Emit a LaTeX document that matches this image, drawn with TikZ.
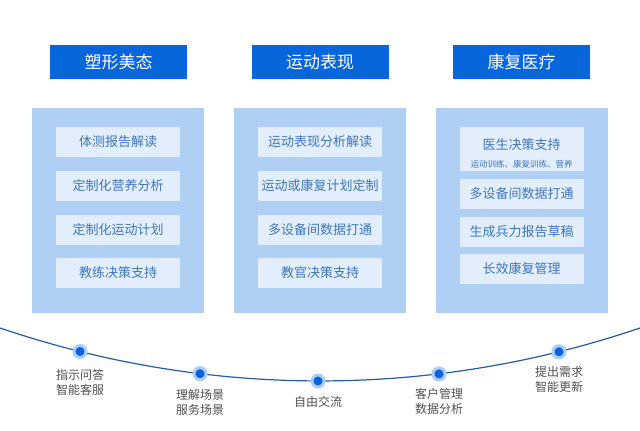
\documentclass[tikz,border=0pt]{standalone}
\usepackage{fontspec}
\setmainfont{Noto Sans CJK SC}
\usetikzlibrary{positioning}
\definecolor{headblue}{RGB}{8, 102, 221}
\definecolor{panelblue}{RGB}{176, 207, 245}
\definecolor{itemblue}{RGB}{227, 238, 252}
\definecolor{itemtext}{RGB}{62, 118, 190}
\definecolor{curveblue}{RGB}{36, 92, 168}
\definecolor{dotblue}{RGB}{10, 96, 226}
\definecolor{halo}{RGB}{170, 205, 248}
\definecolor{labelgray}{RGB}{80, 80, 80}

\tikzset{
  header/.style={fill=headblue, text=white, minimum width=137pt, minimum height=34pt, inner sep=0pt, font=\fontsize{17}{20}\selectfont},
  panel/.style={fill=panelblue, minimum width=172pt, minimum height=205pt, inner sep=0pt},
  item/.style={fill=itemblue, text=itemtext, minimum width=124pt, minimum height=30pt, inner sep=0pt, font=\fontsize{13}{16}\selectfont},
  dot/.style={circle, fill=dotblue, draw=halo, line width=3pt, minimum size=12pt, inner sep=0pt},
  steplabel/.style={text=labelgray, align=center, inner sep=0pt, font=\fontsize{12}{15}\selectfont}
}

\begin{document}
\begin{tikzpicture}[x=1pt, y=-1pt]
  \useasboundingbox[fill=white] (0,0) rectangle (640,431);

  % --- three columns ---
  \node[header] (h1) at (118.5,62) {塑形美态};
  \node[header] (h2) at (320,62) {运动表现};
  \node[header] (h3) at (521.5,62) {康复医疗};

  \node[panel] (p1) at (117.5,210.5) {};
  \node[panel] (p2) at (320,210.5) {};
  \node[panel] (p3) at (522,210.5) {};

  \node[item] (a1) at (118,142) {体测报告解读};
  \node[item] (a2) at (118,186) {定制化营养分析};
  \node[item] (a3) at (118,229.5) {定制化运动计划};
  \node[item] (a4) at (118,273) {教练决策支持};

  \node[item] (b1) at (320,142) {运动表现分析解读};
  \node[item] (b2) at (320,186) {运动或康复计划定制};
  \node[item] (b3) at (320,229.5) {多设备间数据打通};
  \node[item] (b4) at (320,273) {教官决策支持};

  \node[item, minimum height=44pt, align=center] (c1) at (521.5,149) {\rule{0pt}{20pt}医生决策支持\\[2pt]{\fontsize{8.5}{11}\selectfont 运动训练、康复训练、营养}};
  \node[item] (c2) at (521.5,193.5) {多设备间数据打通};
  \node[item] (c3) at (521.5,232) {生成兵力报告草稿};
  \node[item] (c4) at (521.5,269) {长效康复管理};

  % --- curve with steps ---
  \draw[curveblue, line width=1.2pt] (320,-611.5) ++(108.8:992.5) arc[start angle=108.8, end angle=71.2, radius=992.5];

  \node[dot] (d1) at (80,351.5) {};
  \node[dot] (d2) at (200,373.7) {};
  \node[dot] (d3) at (318,381) {};
  \node[dot] (d4) at (439,373.9) {};
  \node[dot] (d5) at (559,351.8) {};

  \node[steplabel, below=10pt of d1] (l1) {指示问答\\智能客服};
  \node[steplabel, below=8pt of d2] (l2) {理解场景\\服务场景};
  \node[steplabel, below=8pt of d3] (l3) {自由交流};
  \node[steplabel, below=7pt of d4] (l4) {客户管理\\数据分析};
  \node[steplabel, below=7pt of d5] (l5) {提出需求\\智能更新};
\end{tikzpicture}
\end{document}
